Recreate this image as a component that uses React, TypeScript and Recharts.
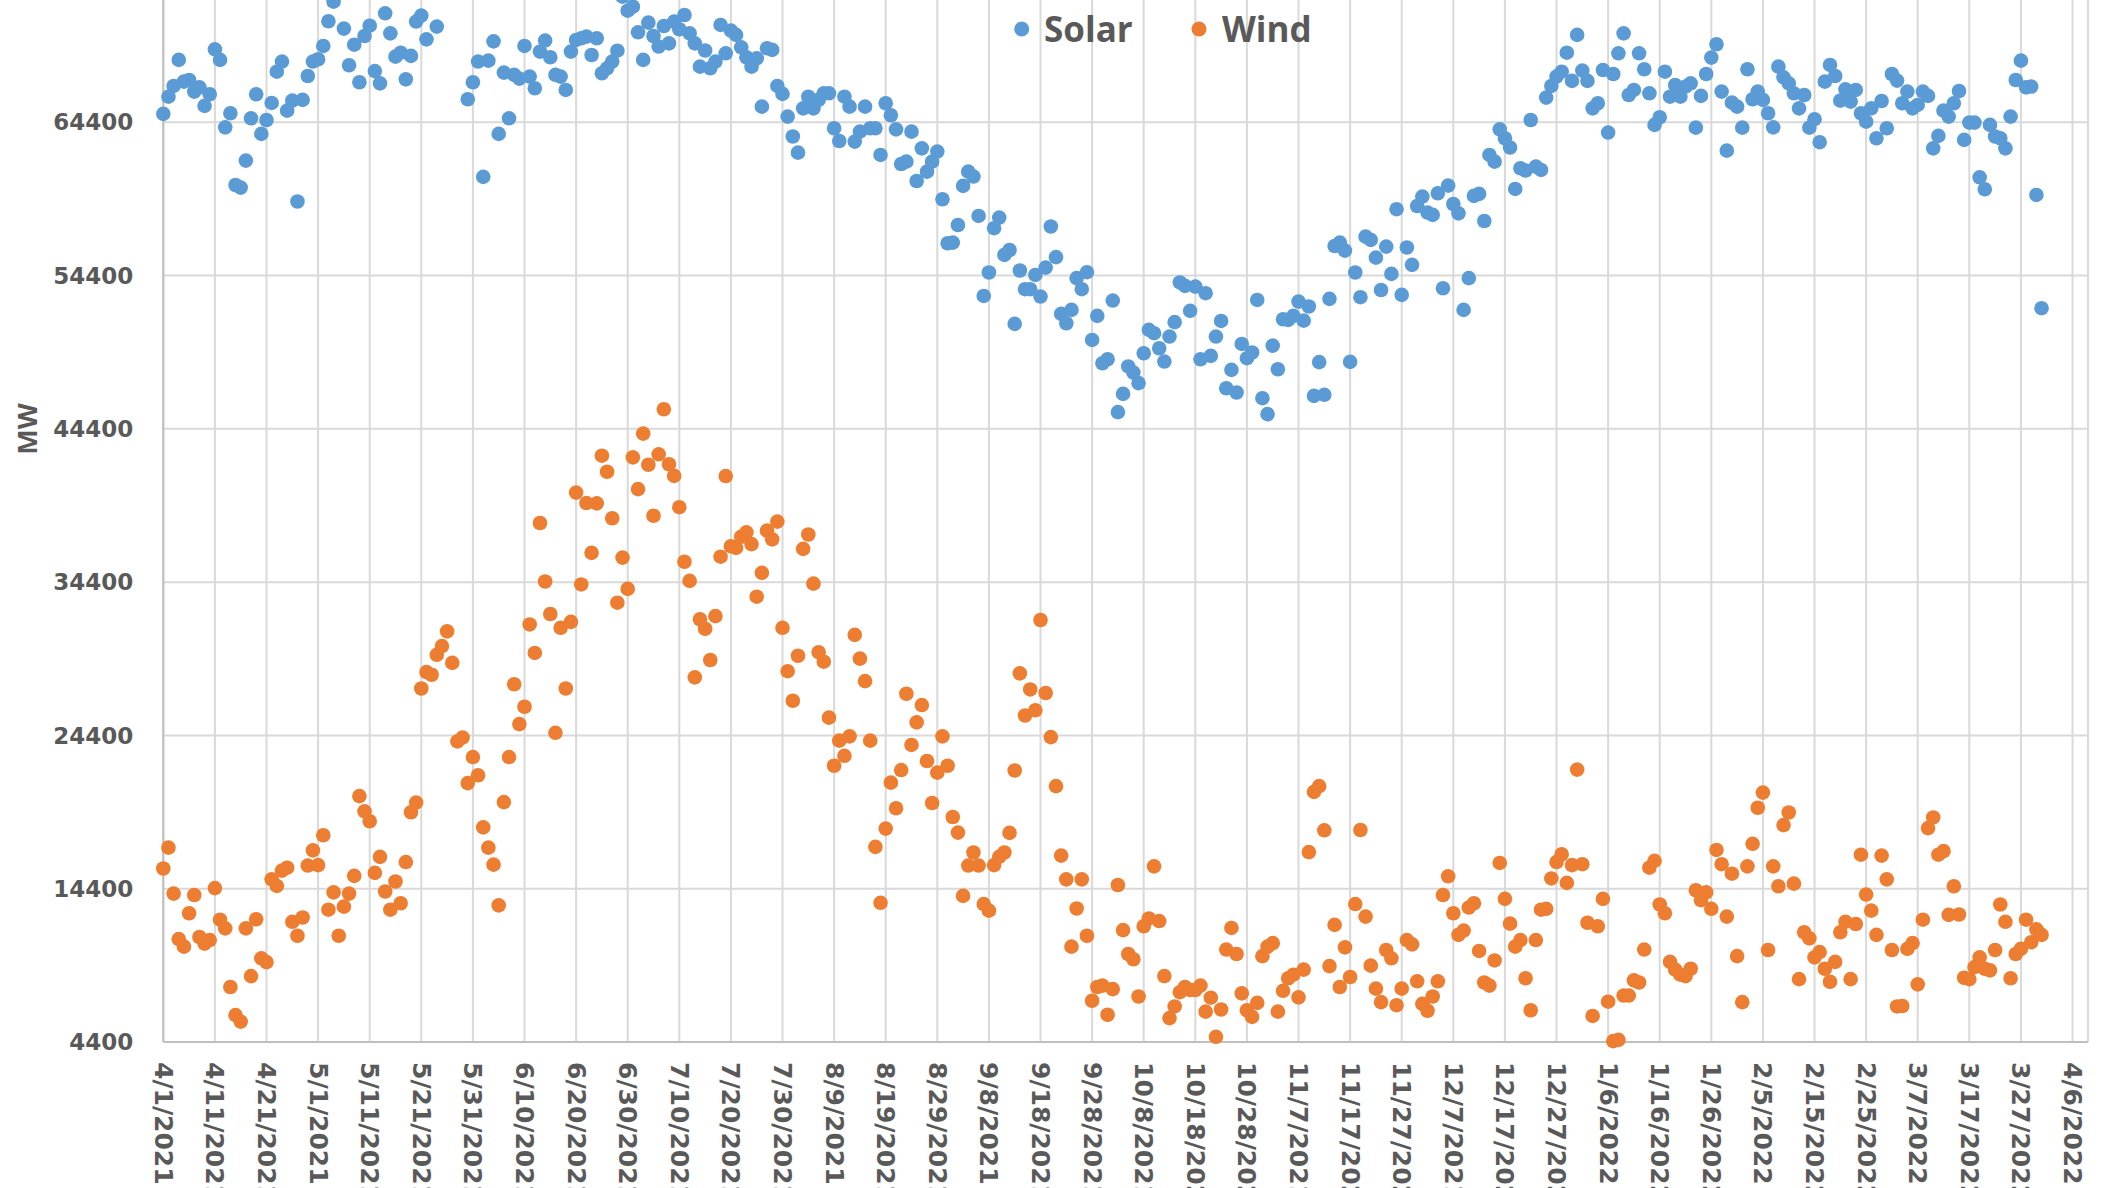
import { ScatterChart, Scatter, XAxis, YAxis, CartesianGrid } from 'recharts';

// x = days since 4/1/2021
const xTicks = [0, 10, 20, 30, 40, 50, 60, 70, 80, 90, 100, 110, 120, 130, 140, 150, 160, 170, 180, 190, 200, 210, 220, 230, 240, 250, 260, 270, 280, 290, 300, 310, 320, 330, 340, 350, 360, 370];
const xTickLabels = ['4/1/2021', '4/11/2021', '4/21/2021', '5/1/2021', '5/11/2021', '5/21/2021', '5/31/2021', '6/10/2021', '6/20/2021', '6/30/2021', '7/10/2021', '7/20/2021', '7/30/2021', '8/9/2021', '8/19/2021', '8/29/2021', '9/8/2021', '9/18/2021', '9/28/2021', '10/8/2021', '10/18/2021', '10/28/2021', '11/7/2021', '11/17/2021', '11/27/2021', '12/7/2021', '12/17/2021', '12/27/2021', '1/6/2022', '1/16/2022', '1/26/2022', '2/5/2022', '2/15/2022', '2/25/2022', '3/7/2022', '3/17/2022', '3/27/2022', '4/6/2022'];
const yTicks = [4400, 14400, 24400, 34400, 44400, 54400, 64400, 74400, 84400];

// daily MW, one entry per day from 4/1/2021
const solarMW = [
  64950, 66070, 66770, 68470, 67050, 67160, 66400, 66680, 65470, 66230,
  69160, 68470, 64070, 64990, 60310, 60140, 61900, 64660, 66230, 63640,
  64550, 65660, 67700, 68360, 65160, 65810, 59230, 65860, 67420, 68360,
  68510, 69380, 70990, 72270, 73400, 70510, 68120, 69460, 67010, 70030,
  70700, 67740, 66940, 71510, 70200, 68680, 68940, 67200, 68730, 70970,
  71360, 69810, 73000, 70640, 73600, 74200, 73300, 74600, 73800, 65900,
  67010, 68360, 60840, 68420, 69680, 63640, 67640, 64660, 67490, 67250,
  69380, 67380, 66620, 69010, 69730, 68640, 67490, 67380, 66510, 69010,
  69770, 69880, 69990, 68790, 69880, 67600, 67920, 68360, 69070, 72600,
  71680, 71940, 70270, 68470, 70900, 70030, 69340, 70680, 69550, 70970,
  70470, 71400, 70200, 69550, 68030, 69080, 67920, 68360, 70750, 68900,
  70380, 70100, 69290, 68640, 68030, 68570, 65420, 69230, 69120, 66770,
  66250, 64770, 63470, 62420, 65310, 66070, 65310, 65860, 66290, 66290,
  64010, 63180, 66070, 65420, 63140, 63790, 65420, 64010, 64010, 62270,
  65640, 64860, 63940, 61680, 61830, 63790, 60570, 62700, 61180, 61830,
  62490, 59380, 56510, 56550, 57700, 60250, 61180, 60860, 58290, 53070,
  54600, 57490, 58180, 55750, 56070, 51250, 54730, 53510, 53510, 54440,
  53030, 54920, 57600, 55600, 51900, 51290, 52160, 54230, 53510, 54620,
  50200, 51770, 48680, 48940, 52770, 45490, 46680, 48470, 48070, 47380,
  49330, 50860, 50640, 49660, 48790, 50420, 51360, 53950, 53730, 52100,
  53680, 48940, 53250, 49160, 50420, 51440, 47050, 48250, 46770, 49940,
  49010, 49380, 52810, 46400, 45360, 49830, 48290, 51550, 51510, 51770,
  52700, 51460, 52380, 46550, 48750, 46620, 52880, 56330, 56550, 56030,
  48770, 54600, 52990, 56940, 56730, 55570, 53460, 56290, 54510, 58730,
  53140, 56230, 55100, 58940, 59550, 58510, 58360, 59770, 53570, 60270,
  59070, 58460, 52160, 54230, 59600, 59730, 57960, 62270, 61830, 63940,
  63360, 62750, 60050, 61400, 61250, 64550, 61510, 61290, 66010, 66770,
  67380, 67700, 68940, 67100, 70100, 67770, 67100, 65310, 65640, 67810,
  63730, 67550, 68900, 70200, 66180, 66510, 68900, 67860, 66290, 64230,
  64730, 67700, 66070, 66830, 66070, 66730, 66940, 64050, 66120, 67550,
  68620, 69490, 66400, 62550, 65680, 65420, 64050, 67860, 65900, 66400,
  65860, 64990, 64070, 68030, 67330, 66940, 66290, 65310, 66180, 64050,
  64600, 63100, 67050, 68140, 67420, 65810, 66550, 65750, 66510, 64990,
  64440, 65310, 63360, 65790, 64010, 67550, 67120, 65640, 66400, 65310,
  65530, 66400, 66120, 62700, 63510, 65160, 64770, 65640, 66440, 63250,
  64380, 64380, 60810, 60030, 64230, 63470, 63360, 62700, 64770, 67160,
  68420, 66680, 66730, 59660, 52270,
];

const windMW = [
  15720, 17080, 14080, 11110, 10620, 12800, 13990, 11250, 10820, 11050,
  14440, 12380, 11810, 7990, 6150, 5730, 11810, 8700, 12410, 9860,
  9610, 15010, 14580, 15580, 15770, 12240, 11330, 12520, 15910, 16900,
  15940, 17890, 13030, 14160, 11330, 13230, 14080, 15240, 20440, 19450,
  18800, 15430, 16480, 14220, 13030, 14870, 13450, 16140, 19390, 20020,
  27460, 28530, 28360, 29660, 30230, 31190, 29130, 24010, 24260, 21290,
  22990, 21800, 18400, 17080, 15970, 13310, 20050, 22990, 27740, 25140,
  26270, 31640, 29780, 38260, 34440, 32320, 24570, 31420, 27460, 31810,
  40240, 34250, 39560, 36310, 39540, 42650, 41600, 38570, 33060, 36000,
  33960, 42540, 40470, 44090, 42060, 38730, 42740, 45680, 42090, 41330,
  39290, 35730, 34480, 28190, 31980, 31360, 29320, 32180, 36060, 41320,
  36740, 36630, 37360, 37650, 36880, 33450, 35010, 37760, 37190, 38350,
  31420, 28590, 26660, 29600, 36570, 37510, 34300, 29830, 29210, 25560,
  22420, 24060, 23070, 24340, 30960, 29410, 27940, 24060, 17130, 13480,
  18320, 21320, 19650, 22140, 27120, 23780, 25250, 26380, 22730, 19990,
  21970, 24340, 22420, 19080, 18060, 13930, 15910, 16760, 15910, 13400,
  12970, 15940, 16480, 16760, 18040, 22110, 28450, 25700, 27400, 26040,
  31930, 27170, 24290, 21090, 16560, 15010, 10620, 13110, 15010, 11330,
  7090, 7990, 8080, 6180, 7850, 14640, 11700, 10140, 9800, 7370,
  11950, 12460, 15860, 12290, 8700, 5960, 6720, 7650, 7990, 7790,
  7790, 8080, 6380, 7290, 4740, 6520, 10430, 11840, 10140, 7570,
  6470, 6040, 6950, 10000, 10620, 10850, 6380, 7740, 8560, 8790,
  7310, 9120, 16790, 20720, 21090, 18210, 9350, 12040, 7990, 10570,
  8640, 13400, 18230, 12580, 9380, 7880, 7000, 10400, 9860, 6800,
  7880, 11050, 10770, 8360, 6890, 6440, 7370, 8360, 13990, 15210,
  12800, 11390, 11670, 13170, 13450, 10340, 8280, 8080, 9720, 16080,
  13740, 12120, 10620, 11050, 8560, 6470, 11050, 13030, 13090, 15070,
  16140, 16650, 14780, 15940, 22170, 16000, 12180, 6100, 11950, 13740,
  7030, 4460, 4540, 7430, 7430, 8420, 8280, 10430, 15770, 16220,
  13370, 12800, 9630, 9120, 8790, 8700, 9180, 14300, 13650, 14160,
  13090, 16930, 16000, 12580, 15380, 10000, 7000, 15860, 17330, 19680,
  20670, 10400, 15860, 14560, 18550, 19370, 14730, 8500, 11560, 11160,
  9920, 10260, 9180, 8330, 9630, 11560, 12240, 8500, 12100, 16620,
  14020, 12970, 11390, 16560, 15010, 10400, 6720, 6750, 10480, 10850,
  8160, 12380, 18350, 19050, 16620, 16850, 12690, 14560, 12720, 8590,
  8500, 9290, 9920, 9180, 9070, 10400, 13370, 12240, 8560, 10140,
  10480, 12380, 10910, 11750, 11390,
];

const SOLAR = '#5B9BD5';
const WIND = '#ED7D31';
const TEXT = '#595959';

const toPoints = (vals: (number | null)[]) =>
  vals.map((v, i) => (v == null ? null : { day: i, mw: v })).filter(Boolean);

const solarData = toPoints(solarMW);
const windData = toPoints(windMW);

const DateTick = (props: any) => {
  const { x, y, payload } = props;
  const label = xTickLabels[xTicks.indexOf(payload.value)];
  return (
    <text
      transform={`translate(${x},${y}) rotate(90)`}
      textAnchor="start"
      dominantBaseline="central"
      fill={TEXT}
      fontSize={25}
      fontWeight="bold"
      fontFamily="DejaVu Sans"
    >
      {label}
    </text>
  );
};

const dot = (color: string) => (p: any) => <circle cx={p.cx} cy={p.cy} r={7.3} fill={color} />;

const App = () => {
  return (
    <div style={{ position: 'absolute', left: 0, top: 0, width: 2101, height: 1188, overflow: 'hidden', background: '#fff' }}>
      <div style={{ position: 'absolute', left: 0, top: -200 }}>
        <ScatterChart width={2101} height={1392} margin={{ top: 15.7, right: 13, left: 0, bottom: 0 }}>
          <CartesianGrid stroke="#D9D9D9" strokeWidth={2} />
          <XAxis
            type="number"
            dataKey="day"
            domain={[0, 373]}
            ticks={xTicks}
            interval={0}
            height={150}
            tickLine={false}
            tickSize={0}
            tickMargin={20}
            axisLine={{ stroke: '#BFBFBF', strokeWidth: 2 }}
            tick={<DateTick />}
          />
          <YAxis
            type="number"
            dataKey="mw"
            domain={[4400, 84400]}
            ticks={yTicks}
            interval={0}
            width={163.3}
            tickLine={false}
            tickSize={0}
            tickMargin={30}
            axisLine={{ stroke: '#BFBFBF', strokeWidth: 2 }}
            tick={{ fill: TEXT, fontSize: 23, fontWeight: 'bold', fontFamily: 'DejaVu Sans' }}
          />
          <Scatter name="Solar" data={solarData} fill={SOLAR} shape={dot(SOLAR)} isAnimationActive={false} />
          <Scatter name="Wind" data={windData} fill={WIND} shape={dot(WIND)} isAnimationActive={false} />
        </ScatterChart>
      </div>
      <svg width={2101} height={1188} style={{ position: 'absolute', left: 0, top: 0, pointerEvents: 'none' }}>
        <text
          transform="translate(26,429) rotate(-90)"
          textAnchor="middle"
          dominantBaseline="central"
          fill={TEXT}
          fontSize={27}
          fontWeight="bold"
          fontFamily="Open Sans"
        >
          MW
        </text>
        <circle cx={1021.7} cy={29} r={7.5} fill={SOLAR} />
        <text x={1044} y={42} fill={TEXT} fontSize={35} fontWeight="bold" fontFamily="Open Sans">Solar</text>
        <circle cx={1199} cy={29} r={7.5} fill={WIND} />
        <text x={1222} y={42} fill={TEXT} fontSize={35} fontWeight="bold" fontFamily="Open Sans">Wind</text>
      </svg>
    </div>
  );
};

export default App;
